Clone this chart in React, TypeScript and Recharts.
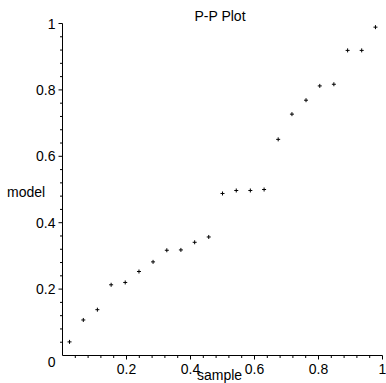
import React from 'react';
import { ScatterChart, Scatter, XAxis, YAxis, Customized } from 'recharts';

const sampleValues = [
  0.022, 0.065, 0.109, 0.152, 0.196, 0.239, 0.283, 0.326, 0.37, 0.413, 0.457, 0.5,
  0.543, 0.587, 0.63, 0.674, 0.717, 0.761, 0.804, 0.848, 0.891, 0.935, 0.978,
];
const modelValues = [
  0.041, 0.107, 0.138, 0.213, 0.22, 0.253, 0.282, 0.317, 0.318, 0.341, 0.357, 0.488,
  0.497, 0.497, 0.5, 0.651, 0.727, 0.769, 0.812, 0.817, 0.919, 0.919, 0.989,
];
const xMajorTicks = [0.2, 0.4, 0.6, 0.8, 1];
const yMajorTicks = [0, 0.2, 0.4, 0.6, 0.8, 1];
const xAllTicks = [
  0.04, 0.08, 0.12, 0.16, 0.2, 0.24, 0.28, 0.32, 0.36, 0.4, 0.44, 0.48, 0.52, 0.56,
  0.6, 0.64, 0.68, 0.72, 0.76, 0.8, 0.84, 0.88, 0.92, 0.96, 1,
];
const yAllTicks = [0, ...xAllTicks];
const chartTitle = 'P-P Plot';
const xLabel = 'sample';
const yLabel = 'model';

const data = sampleValues.map((s, i) => ({ sample: s, model: modelValues[i] }));

const FONT = '"Liberation Sans", Arial, Helvetica, sans-serif';

const isMajor = (v: number, list: number[]) => list.some((m) => Math.abs(m - v) < 1e-9);

const XTick = (props: any) => {
  const { x, y, payload } = props;
  const v = payload.value;
  const major = isMajor(v, xMajorTicks);
  return (
    <g>
      <line x1={x} x2={x} y1={y} y2={y + (major ? 4 : 2.5)} stroke="#000" strokeWidth={1} />
      {major && (
        <text x={x} y={y + 18} textAnchor="middle" fontSize={14} fill="#000" fontFamily={FONT}>
          {String(v)}
        </text>
      )}
    </g>
  );
};

const YTick = (props: any) => {
  const { x, y, payload } = props;
  const v = payload.value;
  const major = isMajor(v, yMajorTicks);
  const isZero = Math.abs(v) < 1e-9;
  return (
    <g>
      {!isZero && (
        <line x1={x - (major ? 4 : 2.5)} x2={x} y1={y} y2={y} stroke="#000" strokeWidth={1} />
      )}
      {major && (
        <text
          x={x - 7}
          y={y + (isZero ? 11.5 : 5)}
          textAnchor="end"
          fontSize={14}
          fill="#000"
          fontFamily={FONT}
        >
          {String(v)}
        </text>
      )}
    </g>
  );
};

const PlusShape = (props: any) => {
  const { cx, cy } = props;
  if (cx == null || cy == null) return null;
  return (
    <g>
      <line x1={cx - 2} x2={cx + 2} y1={cy} y2={cy} stroke="#000" strokeWidth={1} />
      <line x1={cx} x2={cx} y1={cy - 2} y2={cy + 2} stroke="#000" strokeWidth={1} />
    </g>
  );
};

const Texts = () => (
  <g fontFamily={FONT} fontSize={14} fill="#000">
    <text x={220} y={20.5} textAnchor="middle">{chartTitle}</text>
    <text x={7} y={197} textAnchor="start">{yLabel}</text>
    <text x={197} y={379.5} textAnchor="start">{xLabel}</text>
  </g>
);

export default function App() {
  return (
    <div style={{ position: 'absolute', left: 0, top: 0, width: 386, height: 383, background: '#fff' }}>
      <ScatterChart
        width={386}
        height={383}
        margin={{ top: 23.5, right: 3.5, bottom: 0, left: 0 }}
      >
        <XAxis
          type="number"
          dataKey="sample"
          domain={[0, 1]}
          ticks={xAllTicks}
          interval={0}
          height={27.5}
          tickSize={0}
          tickMargin={0}
          tickLine={false}
          axisLine={{ stroke: '#000', strokeWidth: 1 }}
          tick={<XTick />}
          allowDataOverflow
        />
        <YAxis
          type="number"
          dataKey="model"
          domain={[0, 1]}
          ticks={yAllTicks}
          interval={0}
          width={62.5}
          tickSize={0}
          tickMargin={0}
          tickLine={false}
          axisLine={{ stroke: '#000', strokeWidth: 1 }}
          tick={<YTick />}
          allowDataOverflow
        />
        <Scatter data={data} shape={<PlusShape />} isAnimationActive={false} />
        <Customized component={Texts} />
      </ScatterChart>
    </div>
  );
}
